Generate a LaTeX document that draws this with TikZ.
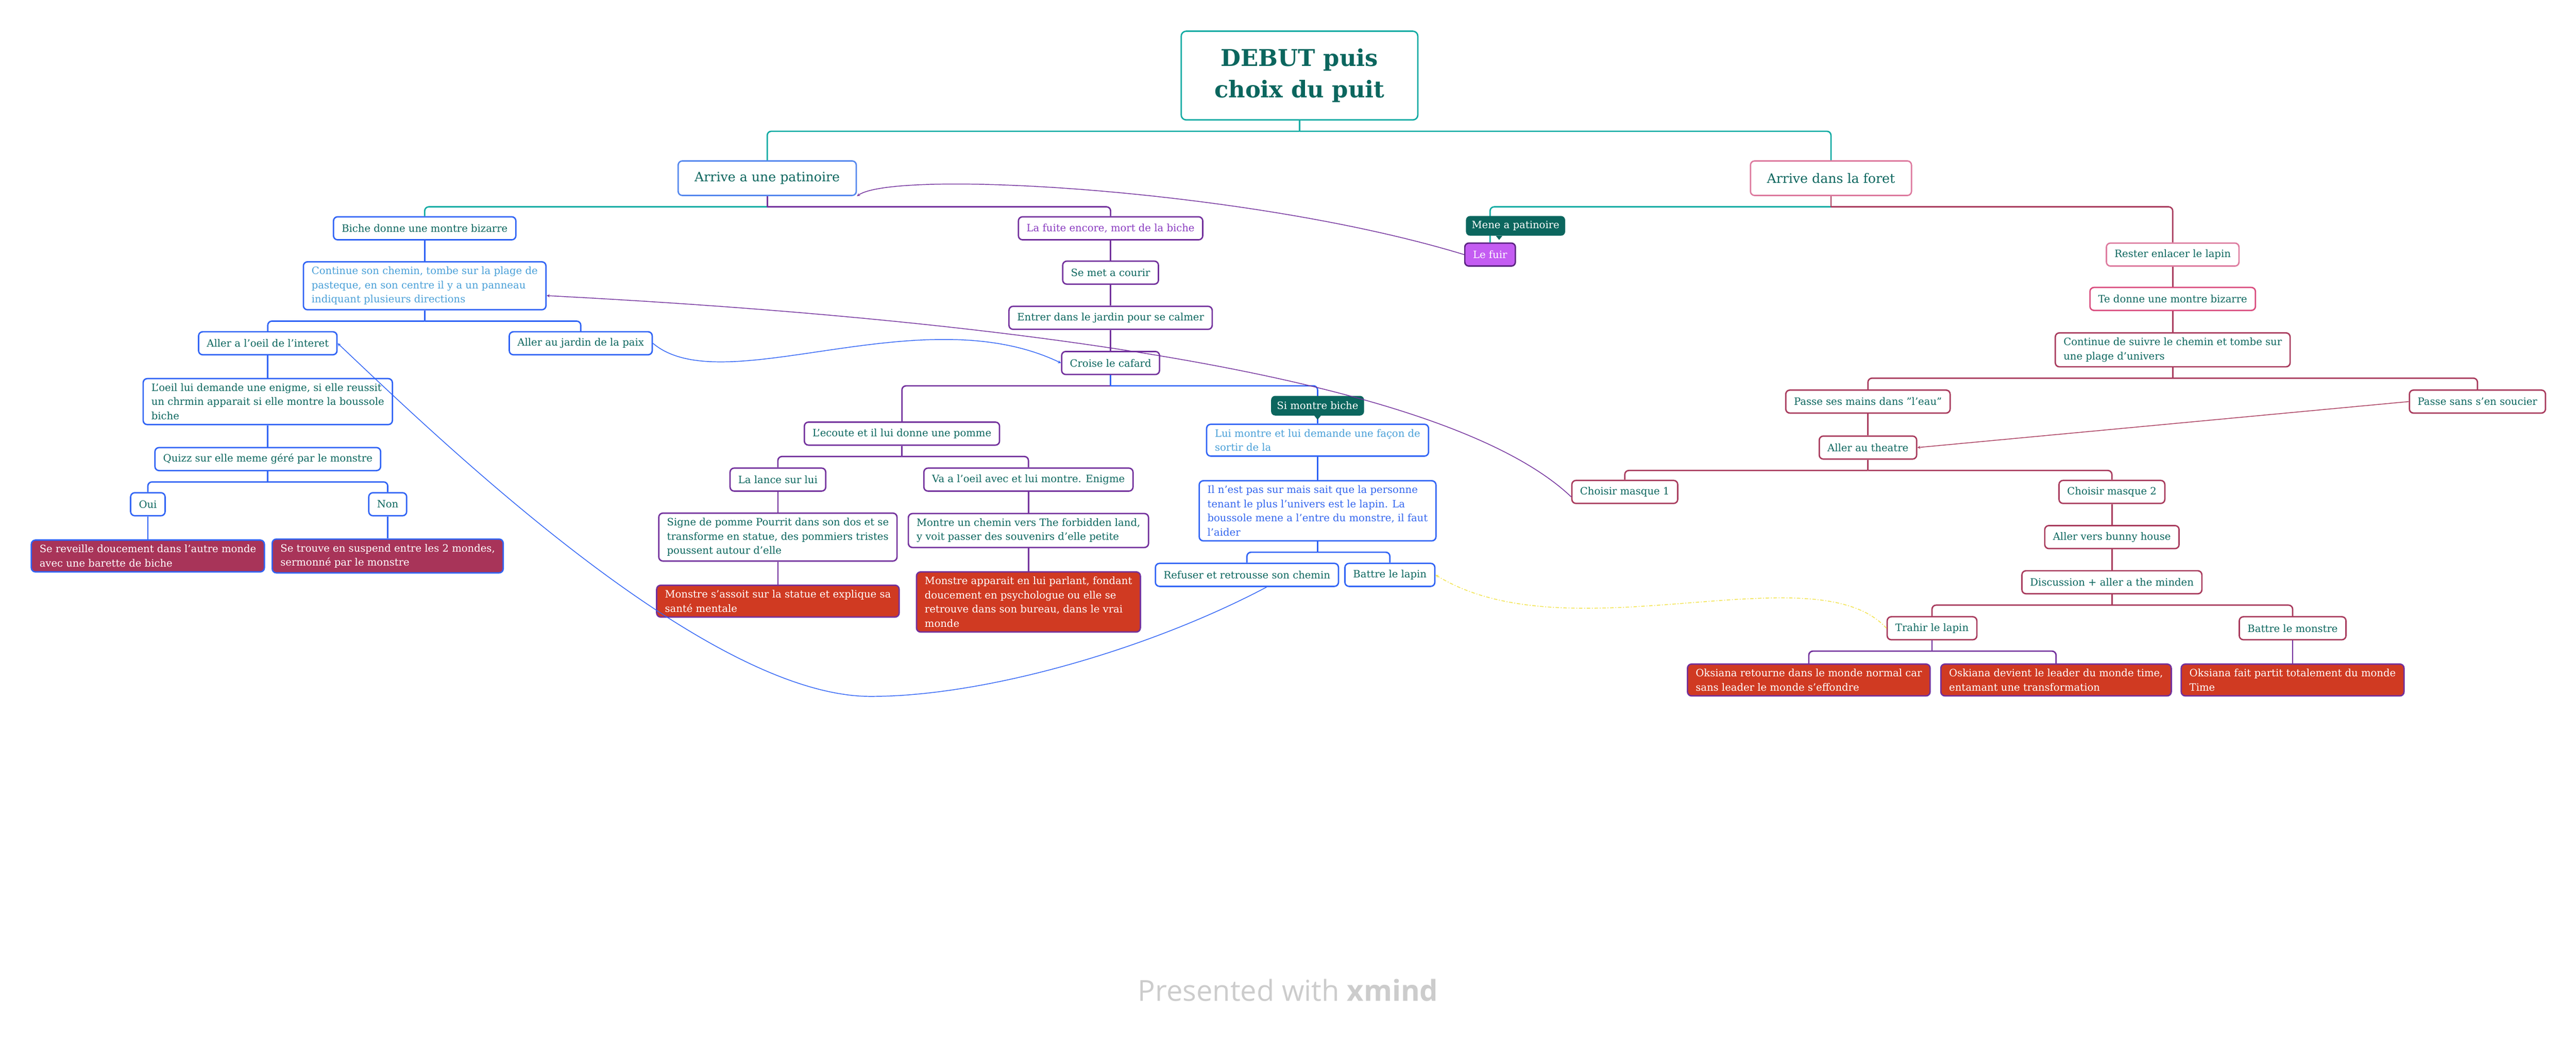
\documentclass[tikz,border=0pt]{standalone}
\usepackage{fontspec}
\setmainfont{DejaVu Serif}
\newfontfamily\wmfont{Open Sans}

\definecolor{tealtext}{HTML}{0B665E}
\definecolor{tealline}{HTML}{12ABA3}
\definecolor{blueline}{HTML}{2F63F5}
\definecolor{lightblueline}{HTML}{5588EE}
\definecolor{purpleline}{HTML}{72309C}
\definecolor{crimsonline}{HTML}{A83A5C}
\definecolor{pinkline}{HTML}{DD7A9E}
\definecolor{rosepink}{HTML}{D94C7E}
\definecolor{redfill}{HTML}{D03A22}
\definecolor{crimsonfill}{HTML}{A83459}
\definecolor{violetfill}{HTML}{C45CF2}
\definecolor{violetdark}{HTML}{5A2380}
\definecolor{skytext}{HTML}{4AA0D8}
\definecolor{bluetext}{HTML}{3366EE}
\definecolor{purpletext}{HTML}{8A3CC0}
\definecolor{yellowline}{HTML}{F2E34A}
\definecolor{watermark}{HTML}{CCCCCC}

\newcommand\topicfont{\fontsize{17.5}{24.5}\selectfont}
\newcommand\branchfont{\fontsize{22.5}{30}\selectfont}
\newcommand\rootfont{\bfseries\fontsize{40}{54}\selectfont}

\tikzset{
  topic/.style={draw=#1, fill=white, line width=2.4pt, rounded corners=2.5mm, text=tealtext,
    font=\topicfont, align=left, inner xsep=5mm, inner ysep=3mm, minimum height=14mm},
  branch/.style={topic=#1, font=\branchfont, inner xsep=10mm, minimum height=21mm},
  rootbox/.style={draw=tealline, fill=white, line width=2.4pt, rounded corners=3mm, text=tealtext,
    font=\rootfont, align=center, minimum width=144mm, minimum height=54mm},
  redleaf/.style={topic=purpleline, fill=redfill, text=white},
  crimsonleaf/.style={topic=blueline, fill=crimsonfill, text=white},
  notebox/.style={fill=tealtext, text=white, rounded corners=2.5mm, font=\topicfont,
    inner xsep=3.5mm, minimum height=12mm},
  br/.style={draw=#1, line width=2.4pt},
  rel/.style={draw=#1, line width=1.3pt, ->, >=stealth}
}

\begin{document}
\begin{tikzpicture}[x=1mm,y=-1mm]

  \useasboundingbox (0,0) rectangle (1568,634.15);

  % root and first level
  \node[rootbox] (root) at (791,46) {DEBUT puis\\choix du puit};
  \node[branch=lightblueline] (patinoire) at (467,108.5) {Arrive a une patinoire};
  \node[branch=pinkline] (foret) at (1114.5,108.5) {Arrive dans la foret};

  % patinoire, left part
  \node[topic=blueline] (biche) at (258.5,139) {Biche donne une montre bizarre};
  \node[topic=blueline, text=skytext] (continue) at (258.5,174)
    {Continue son chemin, tombe sur la plage de\\pasteque, en son centre il y a un panneau\\indiquant plusieurs directions};
  \node[topic=blueline] (oeil) at (163,209) {Aller a l’oeil de l’interet};
  \node[topic=blueline] (jardinpaix) at (353.5,209) {Aller au jardin de la paix};
  \node[topic=blueline] (enigme) at (163,244.5)
    {L’oeil lui demande une enigme, si elle reussit\\un chrmin apparait si elle montre la boussole\\biche};
  \node[topic=blueline] (quizz) at (163,279.5) {Quizz sur elle meme géré par le monstre};
  \node[topic=blueline] (oui) at (90,307) {Oui};
  \node[topic=blueline] (non) at (236,307) {Non};
  \node[crimsonleaf] (reveil) at (90,338.5) {Se reveille doucement dans l’autre monde\\avec une barette de biche};
  \node[crimsonleaf] (suspend) at (236,338.5) {Se trouve en suspend entre les 2 mondes,\\sermonné par le monstre};

  % patinoire, right part
  \node[topic=purpleline, text=purpletext] (fuite) at (676,139) {La fuite encore, mort de la biche};
  \node[topic=purpleline] (courir) at (676,166) {Se met a courir};
  \node[topic=purpleline] (jardin) at (676,193.5) {Entrer dans le jardin pour se calmer};
  \node[topic=purpleline] (cafard) at (676,221) {Croise le cafard};
  \node[topic=purpleline] (ecoute) at (549,264) {L’ecoute et il lui donne une pomme};
  \node[topic=purpleline] (lance) at (473.5,292) {La lance sur lui};
  \node[topic=purpleline] (vaoeil) at (626,292) {Va a l’oeil avec et lui montre. Enigme};
  \node[topic=purpleline] (statue) at (473.5,327)
    {Signe de pomme Pourrit dans son dos et se\\transforme en statue, des pommiers tristes\\poussent autour d’elle};
  \node[redleaf] (assoit) at (473.5,366) {Monstre s’assoit sur la statue et explique sa\\santé mentale};
  \node[topic=purpleline] (forbidden) at (626,323)
    {Montre un chemin vers The forbidden land,\\y voit passer des souvenirs d’elle petite};
  \node[redleaf] (psy) at (626,366.5)
    {Monstre apparait en lui parlant, fondant\\doucement en psychologue ou elle se\\retrouve dans son bureau, dans le vrai\\monde};
  \node[topic=blueline, text=skytext] (sortir) at (802,268) {Lui montre et lui demande une façon de\\sortir de la};
  \node[topic=blueline, text=bluetext] (personne) at (802,311)
    {Il n’est pas sur mais sait que la personne\\tenant le plus l’univers est le lapin. La\\boussole mene a l’entre du monstre, il faut\\l’aider};
  \node[topic=blueline] (refuser) at (759,350) {Refuser et retrousse son chemin};
  \node[topic=blueline] (battrelapin) at (846,350) {Battre le lapin};

  % foret
  \node[topic=violetdark, fill=violetfill, text=white] (fuir) at (907,155) {Le fuir};
  \node[topic=pinkline] (rester) at (1322.5,155) {Rester enlacer le lapin};
  \node[topic=rosepink] (tedonne) at (1322.5,182) {Te donne une montre bizarre};
  \node[topic=crimsonline] (plage) at (1322.5,213) {Continue de suivre le chemin et tombe sur\\une plage d’univers};
  \node[topic=crimsonline] (mains) at (1137,244.5) {Passe ses mains dans ”l’eau”};
  \node[topic=crimsonline] (soucier) at (1508,244.5) {Passe sans s’en soucier};
  \node[topic=crimsonline] (theatre) at (1137,272.5) {Aller au theatre};
  \node[topic=crimsonline] (masque1) at (989,299.5) {Choisir masque 1};
  \node[topic=crimsonline] (masque2) at (1285.5,299.5) {Choisir masque 2};
  \node[topic=crimsonline] (bunny) at (1285.5,327) {Aller vers bunny house};
  \node[topic=crimsonline] (discussion) at (1285.5,354.5) {Discussion + aller a the minden};
  \node[topic=crimsonline] (trahir) at (1176,382.5) {Trahir le lapin};
  \node[topic=crimsonline] (battremonstre) at (1395.5,382.5) {Battre le monstre};
  \node[redleaf] (oks1) at (1101,414) {Oksiana retourne dans le monde normal car\\sans leader le monde s’effondre};
  \node[redleaf] (oks2) at (1251.5,414) {Oskiana devient le leader du monde time,\\entamant une transformation};
  \node[redleaf] (oks3) at (1395.5,414) {Oksiana fait partit totalement du monde\\Time};

  % tree connectors
  \foreach \p/\c/\col in {root/patinoire/tealline, root/foret/tealline,
      patinoire/biche/tealline, patinoire/fuite/purpleline,
      biche/continue/blueline, continue/oeil/blueline, continue/jardinpaix/blueline,
      oeil/enigme/blueline, enigme/quizz/blueline, quizz/oui/blueline, quizz/non/blueline,
      oui/reveil/blueline, non/suspend/blueline,
      fuite/courir/purpleline, courir/jardin/purpleline, jardin/cafard/purpleline,
      cafard/ecoute/purpleline, cafard/sortir/blueline,
      ecoute/lance/purpleline, ecoute/vaoeil/purpleline,
      lance/statue/purpleline, statue/assoit/purpleline,
      vaoeil/forbidden/purpleline, forbidden/psy/purpleline,
      sortir/personne/blueline, personne/refuser/blueline, personne/battrelapin/blueline,
      foret/fuir/tealline, foret/rester/crimsonline,
      rester/tedonne/crimsonline, tedonne/plage/crimsonline,
      plage/mains/crimsonline, plage/soucier/crimsonline,
      mains/theatre/crimsonline, theatre/masque1/crimsonline, theatre/masque2/crimsonline,
      masque2/bunny/crimsonline, bunny/discussion/crimsonline,
      discussion/trahir/crimsonline, discussion/battremonstre/crimsonline,
      trahir/oks1/purpleline, trahir/oks2/purpleline, battremonstre/oks3/purpleline}
  {
    \draw[br=\col] (\p.south) -- ([yshift=-6.5mm]\p.south);
    \draw[br=\col, rounded corners=2.5mm] ([yshift=-6.5mm]\p.south) -| (\c.north);
  }

  % callouts
  \node[notebox] (simontre) at (802,247) {Si montre biche};
  \fill[tealtext] ([xshift=-2mm]simontre.south) -- ([xshift=2mm]simontre.south)
    -- ([yshift=-2.5mm]simontre.south) -- cycle;
  \node[notebox] (mene) at (922.5,137.5) {Mene a patinoire};
  \fill[tealtext] ([xshift=-12mm]mene.south) -- ([xshift=-8mm]mene.south)
    -- ([xshift=-10mm,yshift=-2.5mm]mene.south) -- cycle;

  % relationships
  \draw[rel=purpleline] (fuir.west) .. controls (760,115) and (545,103) .. (patinoire.south east);
  \draw[rel=purpleline] ([yshift=-3mm]masque1.west) .. controls (880,230) and (620,195)
    .. ([yshift=-6mm]continue.east);
  \draw[rel=blueline] (jardinpaix.east) .. controls (440,245) and (560,180) .. (cafard.west);
  \draw[rel=blueline] ([xshift=12mm]refuser.south) .. controls (700,395) and (600,424) .. (530,424)
    .. controls (430,424) and (270,270) .. (oeil.east);
  \draw[rel=crimsonline] (soucier.west) -- (theatre.east);
  \draw[rel=yellowline, dash pattern=on 6pt off 3pt on 1.5pt off 3pt]
    (trahir.west) .. controls (1105,335) and (955,400) .. (battrelapin.east);

  % watermark
  \node[text=watermark, font=\wmfont\fontsize{50}{60}\selectfont] (credit) at (784,603)
    {Presented with \textbf{xmind}};

\end{tikzpicture}
\end{document}
